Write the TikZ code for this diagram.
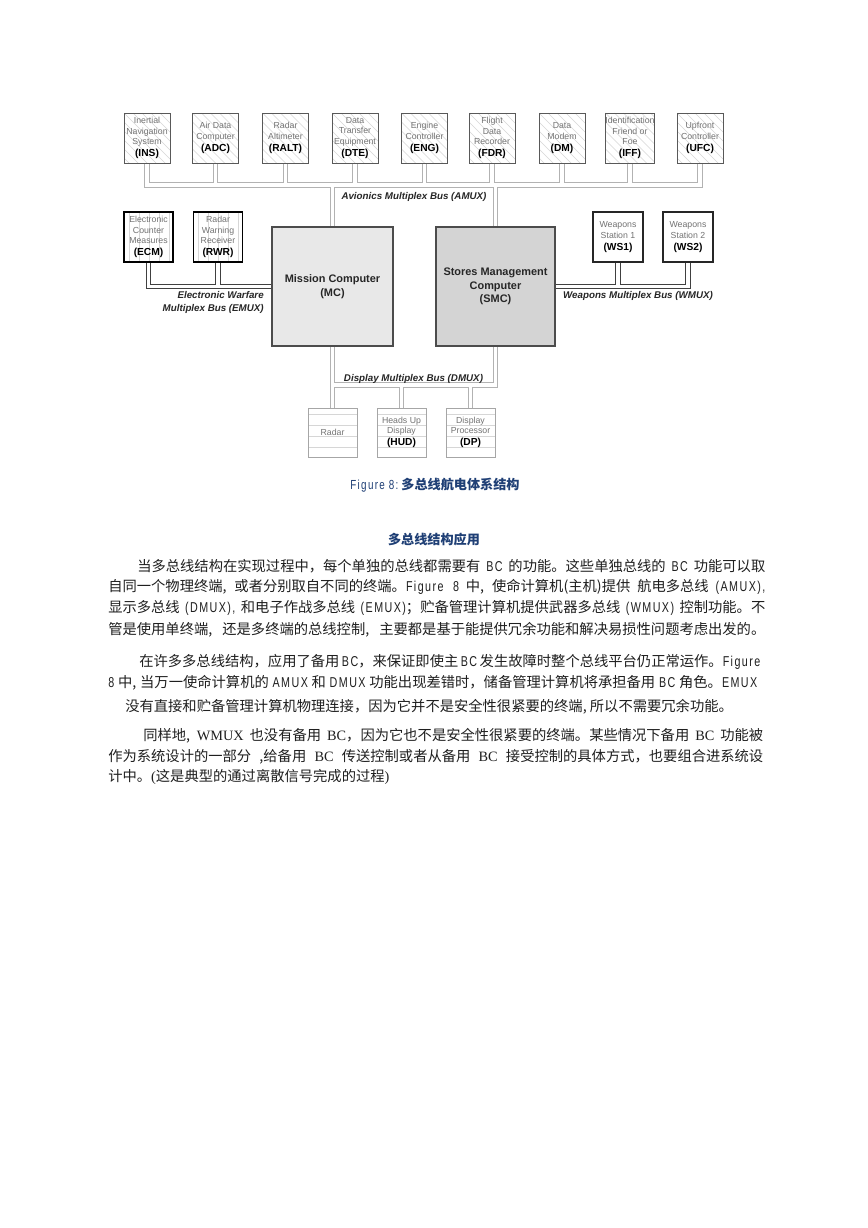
\documentclass[tikz,border=0pt]{standalone}
\usepackage{fontspec}
\usetikzlibrary{backgrounds}
\setmainfont{Liberation Serif}
\newfontfamily\cjk{Noto Sans CJK SC}
\newfontfamily\diag{Liberation Sans}
\newfontfamily\narrowlat[FakeStretch=0.75,LetterSpace=10]{Liberation Sans}
\newfontfamily\tms{Liberation Serif}
\XeTeXlinebreaklocale "zh"
\XeTeXlinebreakskip=0pt plus 4pt
\newcommand\lat[1]{{\narrowlat #1}}
\newcommand\tl[1]{{\tms #1}}
\newcommand\acr[1]{{\fontsize{7}{7.2}\selectfont\bfseries\color{black}(#1)}}
\definecolor{navy}{HTML}{1F3F75}
\definecolor{hatchc}{HTML}{D6D6D6}
\tikzset{
 hatch/.style={draw=hatchc, line width=0.4pt},
 hatchD/.style={path picture={\foreach \k in {-54,-45,...,54}{\draw[hatch] ([xshift=\k*0.6855pt]path picture bounding box.north west) -- ++(60,60);}}},
 hatchV/.style={path picture={\foreach \k in {5,15,...,55}{\draw[hatch] ([xshift=\k*0.6855pt]path picture bounding box.north west) -- ++(0,60);}}},
 hatchH/.style={path picture={\foreach \k in {6,17,28,39}{\draw[hatch] ([yshift=-\k*0.6855pt]path picture bounding box.north west) -- ++(60,0);}}},
 box/.style={draw=black!65, line width=0.6pt, fill=white, inner sep=0pt, align=center, text=black!55, font=\diag\fontsize{6}{7.2}\selectfont},
 topbox/.style={box, hatchD, minimum width=31.53pt, minimum height=34.28pt},
 ewbox/.style={box, hatchV, draw=black, line width=0.8pt, minimum width=33.59pt, minimum height=34.28pt},
 wsbox/.style={box, draw=black!85, line width=0.8pt, minimum width=34.28pt, minimum height=34.28pt},
 dispbox/.style={box, hatchH, draw=black!35, minimum width=33.59pt, minimum height=33.59pt},
 comp/.style={draw=black!70, line width=1pt, inner sep=0pt, align=center, font=\diag\bfseries\fontsize{7.5}{9.2}\selectfont, text=black!85},
 buslbl/.style={inner sep=0pt, font=\diag\bfseries\itshape\fontsize{6.7}{8.9}\selectfont, text=black!85},
 pipeO/.style={draw=black!30, line width=3.6pt},
 pipeI/.style={draw=white, line width=2.2pt},
 pipeDO/.style={draw=black!75, line width=3.6pt},
 body/.style={anchor=west, inner sep=0pt, font=\cjk\fontsize{9.8}{12}\selectfont, text=black!88},
 headtxt/.style={inner sep=0pt, font=\cjk\bfseries\fontsize{9}{11}\selectfont, text=navy},
}
\begin{document}
\begin{tikzpicture}[x=0.6855pt,y=-0.6855pt]
\useasboundingbox (0,0) rectangle (868,1228);
% top row
\node[topbox] (ins) at (147,138) {Inertial\\Navigation\\System\\[1pt]\acr{INS}};
\node[topbox] (adc) at (215.5,138) {Air Data\\Computer\\[1pt]\acr{ADC}};
\node[topbox] (ralt) at (285.5,138) {Radar\\Altimeter\\[1pt]\acr{RALT}};
\node[topbox] (dte) at (355,138) {Data\\Transfer\\Equipment\\[1pt]\acr{DTE}};
\node[topbox] (eng) at (424.5,138) {Engine\\Controller\\[1pt]\acr{ENG}};
\node[topbox] (fdr) at (492,138) {Flight\\Data\\Recorder\\[1pt]\acr{FDR}};
\node[topbox] (dm) at (562,138) {Data\\Modem\\[1pt]\acr{DM}};
\node[topbox] (iff) at (630,138) {Identification\\Friend or\\Foe\\[1pt]\acr{IFF}};
\node[topbox] (ufc) at (700,138) {Upfront\\Controller\\[1pt]\acr{UFC}};
% EW
\node[ewbox] (ecm) at (148.5,237) {Electronic\\Counter\\Measures\\[1pt]\acr{ECM}};
\node[ewbox] (rwr) at (218,237) {Radar\\Warning\\Receiver\\[1pt]\acr{RWR}};
% computers
\node[comp, fill=black!9, minimum width=82.95pt, minimum height=81.57pt] (mc) at (332.5,286.5) {Mission Computer\\(MC)};
\node[comp, fill=black!17, minimum width=81.57pt, minimum height=81.57pt] (smc) at (495.5,286.5) {Stores Management\\Computer\\(SMC)};
% weapons
\node[wsbox] (ws1) at (618,237) {Weapons\\Station 1\\[1pt]\acr{WS1}};
\node[wsbox] (ws2) at (688,237) {Weapons\\Station 2\\[1pt]\acr{WS2}};
% displays
\node[dispbox] (radar) at (332.5,432.5) {Radar};
\node[dispbox] (hud) at (401.5,432.5) {Heads Up\\Display\\[1pt]\acr{HUD}};
\node[dispbox] (dp) at (470.5,432.5) {Display\\Processor\\[1pt]\acr{DP}};
% bus coordinates
\coordinate (amuxy) at (0,185);
\coordinate (emuxy) at (0,286.5);
\coordinate (dmuxy) at (0,385);
% bus labels
\node[buslbl] (amuxl) at (414,197) {Avionics Multiplex Bus (AMUX)};
\node[buslbl, align=right, anchor=east] (emuxl) at (264,302.5) {Electronic Warfare\\Multiplex Bus (EMUX)};
\node[buslbl] (wmuxl) at (638,296) {Weapons Multiplex Bus (WMUX)};
\node[buslbl] (dmuxl) at (413.5,379) {Display Multiplex Bus (DMUX)};
\begin{pgfonlayer}{background}
\fill[white] (0,0) rectangle (868,1228);
\foreach \st in {pipeO,pipeI}{
 \draw[\st] (ins.south) -- (ins.south |- amuxy) -- (ufc.south |- amuxy) -- (ufc.south);
 \foreach \b in {adc,ralt,dte,eng,fdr,dm,iff}{\draw[\st] (\b.south) -- (\b.south |- amuxy);}
 \draw[\st] (mc.north) -- (mc.north |- amuxy);
 \draw[\st] (smc.north) -- (smc.north |- amuxy);
 \draw[\st] (mc.south) -- (radar.north);
 \draw[\st] (mc.south |- dmuxy) -- (smc.south |- dmuxy) -- (smc.south);
 \draw[\st] (hud.north) -- (hud.north |- dmuxy);
 \draw[\st] (dp.north) -- (dp.north |- dmuxy);
}
\foreach \st in {pipeDO,pipeI}{
 \draw[\st] (ecm.south) -- (ecm.south |- emuxy) -- (emuxy -| mc.west);
 \draw[\st] (rwr.south) -- (rwr.south |- emuxy);
 \draw[\st] (smc.east) -- (ws2.south |- smc.east) -- (ws2.south);
 \draw[\st] (ws1.south) -- (ws1.south |- smc.east);
}
\end{pgfonlayer}
% caption and heading
\node[headtxt] (cap) at (435,485) {\lat{\mdseries Figure 8:}\ 多总线航电体系结构};
\node[headtxt] (head) at (434,539) {多总线结构应用};
% body
\node[body] (l1) at (137,566) {\hbox to 430.5pt{当多总线结构在实现过程中，每个单独的总线都需要有 \lat{BC} 的功能。这些单独总线的 \lat{BC} 功能可以取}};
\node[body] (l2) at (108,587) {\hbox to 450.4pt{自同一个物理终端, 或者分别取自不同的终端。\lat{Figure 8} 中, 使命计算机(主机)提供 航电多总线 \lat{(AMUX),}}};
\node[body] (l3) at (108,608) {\hbox to 450.4pt{显示多总线 \lat{(DMUX),} 和电子作战多总线 \lat{(EMUX)}；贮备管理计算机提供武器多总线 \lat{(WMUX)} 控制功能。不}};
\node[body] (l4) at (108,630) {\hbox to 450.4pt{管是使用单终端, 还是多终端的总线控制, 主要都是基于能提供冗余功能和解决易损性问题考虑出发的。}};
\node[body] (l5) at (139,662) {\hbox to 425.7pt{在许多多总线结构，应用了备用 \lat{BC}，来保证即使主 \lat{BC} 发生故障时整个总线平台仍正常运作。\lat{Figure}}};
\node[body] (l6) at (108,683) {\hbox to 444.9pt{\lat{8} 中, 当万一使命计算机的 \lat{AMUX} 和 \lat{DMUX} 功能出现差错时，储备管理计算机将承担备用 \lat{BC} 角色。\lat{EMUX}}};
\node[body] (l7) at (125,707) {没有直接和贮备管理计算机物理连接，因为它并不是安全性很紧要的终端, 所以不需要冗余功能。};
\node[body] (l8) at (143,736) {\hbox to 425pt{同样地, \tl{WMUX} 也没有备用 \tl{BC}，因为它也不是安全性很紧要的终端。某些情况下备用 \tl{BC} 功能被}};
\node[body] (l9) at (108,757) {\hbox to 449pt{作为系统设计的一部分 ,给备用 \tl{BC} 传送控制或者从备用 \tl{BC} 接受控制的具体方式，也要组合进系统设}};
\node[body] (l10) at (108,777) {计中。\tl{(}这是典型的通过离散信号完成的过程\tl{)}};
\end{tikzpicture}
\end{document}
